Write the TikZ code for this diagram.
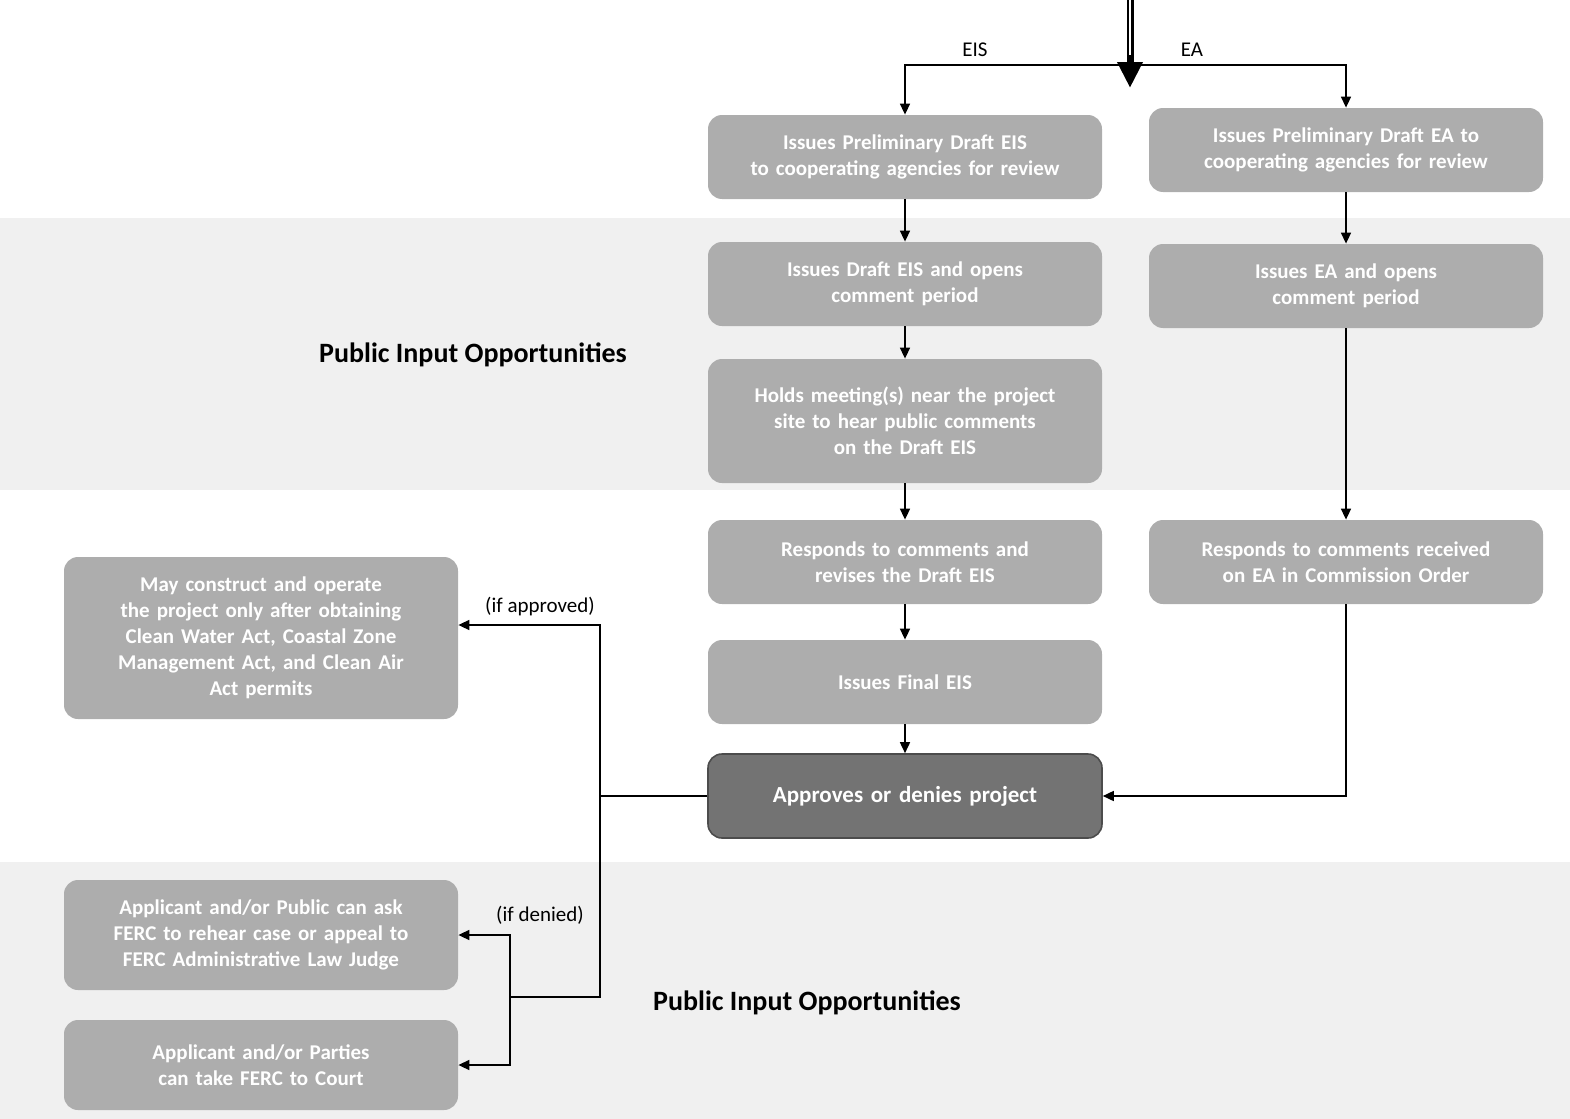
\documentclass[tikz,border=0pt]{standalone}
\usepackage{fontspec}
\setmainfont{Carlito}
\usetikzlibrary{arrows.meta}
\definecolor{bandgray}{gray}{0.94}
\definecolor{boxgray}{gray}{0.68}
\definecolor{darkbox}{gray}{0.45}
\begin{document}
\begin{tikzpicture}[x=0.5pt,y=-0.5pt,
  stepbox/.style={rounded corners=7pt,fill=boxgray,text=white,font=\bfseries\fontsize{10.5}{13}\selectfont,
    align=center,inner sep=2pt,minimum width=197pt,minimum height=42pt,text width=185pt},
  arr/.style={-{Triangle[length=5.5pt,width=5pt]},line width=0.8pt},
  conn/.style={line width=0.8pt},
  lbl/.style={font=\fontsize{10.5}{12}\selectfont,inner sep=1pt},
  pio/.style={font=\bfseries\fontsize{14}{16}\selectfont,inner sep=1pt}]
\useasboundingbox (0,0) rectangle (1570,1119);
% background bands
\fill[bandgray] (0,218) rectangle (1570,490);
\fill[bandgray] (0,862) rectangle (1570,1119);
% nodes
\node[stepbox] (eis1) at (905,157) {Issues Preliminary Draft EIS\\to cooperating agencies for review};
\node[stepbox] (ea1) at (1346,150) {Issues Preliminary Draft EA to\\cooperating agencies for review};
\node[stepbox] (eis2) at (905,284) {Issues Draft EIS and opens\\comment period};
\node[stepbox] (ea2) at (1346,286) {Issues EA and opens\\comment period};
\node[stepbox,minimum height=62pt] (eis3) at (905,421) {Holds meeting(s) near the project\\site to hear public comments\\on the Draft EIS};
\node[stepbox] (eis4) at (905,562) {Responds to comments and\\revises the Draft EIS};
\node[stepbox] (ea4) at (1346,562) {Responds to comments received\\on EA in Commission Order};
\node[stepbox] (eis5) at (905,682) {Issues Final EIS};
\node[stepbox,fill=darkbox,draw=black!70,line width=0.8pt,font=\bfseries\fontsize{11.5}{13}\selectfont] (appr) at (905,796) {Approves or denies project};
\node[stepbox,minimum height=81pt] (left1) at (261,638) {May construct and operate\\the project only after obtaining\\Clean Water Act, Coastal Zone\\Management Act, and Clean Air\\Act permits};
\node[stepbox,minimum height=55pt] (left2) at (261,935) {Applicant and/or Public can ask\\FERC to rehear case or appeal to\\FERC Administrative Law Judge};
\node[stepbox,minimum height=45pt] (left3) at (261,1065) {Applicant and/or Parties\\can take FERC to Court};
% texts
\node[pio] (pio1) at (473,355) {Public Input Opportunities};
\node[pio] (pio2) at (807,1003) {Public Input Opportunities};
\node[lbl] (leis) at (975,50) {EIS};
\node[lbl] (lea) at (1192,50) {EA};
\node[lbl] (lapp) at (540,607) {(if approved)};
\node[lbl] (lden) at (540,915) {(if denied)};
% top arrow
\coordinate (topin) at (1130,0);
\coordinate (toptip) at (1130,88);
\coordinate (split) at (1130,65);
\draw[line width=3.5pt,-{Triangle[length=13pt,width=12pt]}] (topin) -- (toptip);
\draw[white,line width=0.8pt] (1130,0) -- (1130,55);
\draw[arr] (split) -| (eis1.north);
\draw[arr] (split) -| (ea1.north);
% EIS column
\draw[arr] (eis1) -- (eis2);
\draw[arr] (eis2) -- (eis3);
\draw[arr] (eis3) -- (eis4);
\draw[arr] (eis4) -- (eis5);
\draw[arr] (eis5) -- (appr);
% EA column
\draw[arr] (ea1) -- (ea2);
\draw[arr] (ea2) -- (ea4);
\draw[arr] (ea4.south) |- (appr.east);
% outcomes
\coordinate (j1) at (600,796);
\coordinate (j2) at (600,997);
\coordinate (j3) at (510,997);
\draw[conn] (appr.west) -- (j1) -- (j2) -- (j3);
\draw[arr] (j1) |- ([yshift=6.5pt]left1.east);
\draw[arr] (j3) |- (left2.east);
\draw[arr] (j3) |- (left3.east);
\end{tikzpicture}
\end{document}
